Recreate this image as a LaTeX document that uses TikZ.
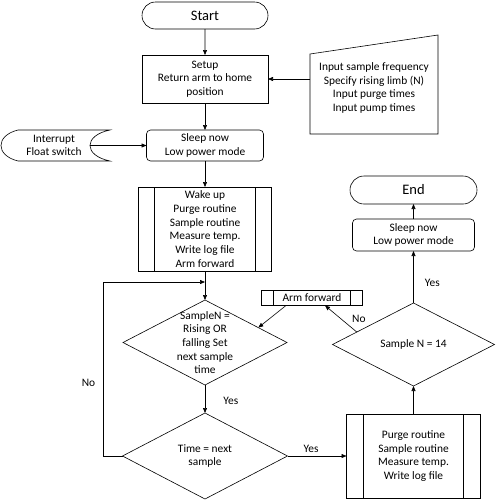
\documentclass[tikz,border=0pt]{standalone}
\usepackage{fontspec}
\setmainfont{Carlito}
\usepackage{tikz}
\usetikzlibrary{shapes,arrows.meta,calc,positioning}

\begin{document}
\begin{tikzpicture}[
  x=1pt, y=-1pt,
  font=\fontsize{11.4}{13.7}\selectfont,
  line width=0.6pt, outer sep=0pt,
  term/.style={rounded rectangle, draw, minimum width=126pt, minimum height=27pt, inner sep=0pt, font=\fontsize{14.5}{16}\selectfont},
  proc/.style={rectangle, draw, minimum width=126pt, minimum height=48pt, inner sep=1pt, align=center},
  wait/.style={rectangle, draw, rounded corners=4pt, minimum width=117pt, minimum height=31pt, inner sep=1pt, align=center},
  subr/.style={rectangle, draw, inner sep=1pt, align=center,
    path picture={
      \draw ([xshift=#1]path picture bounding box.north west) -- ([xshift=#1]path picture bounding box.south west);
      \draw ([xshift=-#1]path picture bounding box.north east) -- ([xshift=-#1]path picture bounding box.south east);}},
  decision/.style={diamond, draw, inner sep=0pt},
  dtext/.style={align=center, inner sep=0pt},
  arrow/.style={-{Triangle[length=5pt,width=4pt]}}
]
\useasboundingbox (0,0) rectangle (498,501);

% Main column
\node[term] (start) at (205,15.5) {Start};
\node[proc, below=26pt of start] (setup) {Setup\\Return arm to home\\position};
\node[wait, below=27pt of setup] (sleep) {Sleep now\\Low power mode};
\node[subr=16pt, minimum width=133pt, minimum height=84pt, below=26pt of sleep] (wake) {Wake up\\Purge routine\\Sample routine\\Measure temp.\\Write log file\\Arm forward};

% Decisions
\node[decision, minimum width=164pt, minimum height=85pt, below=29pt of wake] (rise) {};
\node[dtext] (risetxt) at (rise) {SampleN =\\Rising OR\\falling Set\\next sample\\time};
\node[decision, minimum width=165pt, minimum height=86pt, below=28pt of rise] (tnext) {};
\node[dtext] (tnexttxt) at (tnext) {Time = next\\sample};

% Right column
\node[subr=17pt, minimum width=134pt, minimum height=84pt, right=59pt of tnext] (samp) {Purge routine\\Sample routine\\Measure temp.\\Write log file};
\node[decision, minimum width=162pt, minimum height=83pt, above=28pt of samp] (count) {};
\node[dtext] (counttxt) at (count) {Sample N = 14};
\node[wait, minimum width=122pt, minimum height=32pt, above=52pt of count] (rest) {Sleep now\\Low power mode};
\node[term, minimum width=127pt, minimum height=28pt, above=15pt of rest] (end) {End};
\node[subr=12pt, minimum width=101pt, minimum height=15pt, inner ysep=0pt] (arm) at (312,298) {Arm forward};

% Manual input
\node[align=center, minimum width=128pt, inner sep=0pt] (inp) at (374,88) {Input sample frequency\\Specify rising limb (N)\\Input purge times\\Input pump times};
\draw ($(inp)+(-64,46)$) -- ($(inp)+(64,46)$) -- ($(inp)+(64,-53)$) -- ($(inp)+(-64,-34)$) -- cycle;

% Interrupt (stored data)
\node[align=center, minimum width=72pt, inner sep=0pt] (intr) at (54,145.5) {Interrupt\\Float switch};
\draw ($(intr)+(-36,-15.5)$) -- ($(intr)+(56,-15.5)$)
  .. controls ($(intr)+(29.3,-10)$) and ($(intr)+(29.3,10)$) .. ($(intr)+(56,15.5)$)
  -- ($(intr)+(-36,15.5)$)
  .. controls ($(intr)+(-58.7,10)$) and ($(intr)+(-58.7,-10)$) .. cycle;

\coordinate (loopin) at ([yshift=-11pt]wake.south);

% Arrows
\draw[arrow] (start) -- (setup);
\draw[arrow] (inp.west |- setup.east) -- (setup.east);
\draw[arrow] (setup) -- (sleep);
\draw[arrow] (intr.east) -- (sleep.west);
\draw[arrow] (sleep) -- (wake);
\draw[arrow] (wake) -- (rise);
\draw[arrow] (rise) -- node[pos=0.55, right=15pt] {Yes} (tnext);
\draw[arrow] (tnext.west) -- ++(-19,0) |- node[pos=0.21, left=5pt] {No} (loopin);
\draw[arrow] (tnext.east) -- node[above, pos=0.4] {Yes} (samp.west);
\draw[arrow] (samp) -- (count);
\draw[arrow] (count) -- node[pos=0.38, right=8pt] {Yes} (rest);
\draw[arrow] (rest) -- (end);
\draw[arrow] ($(count.west)!0.3!(count.north)$) -- node[pos=0.5, right=8pt] {No} ([xshift=13pt]arm.south);
\draw[arrow] ([xshift=-26pt]arm.south) -- ($(rise.north)!0.65!(rise.east)$);

\end{tikzpicture}
\end{document}
